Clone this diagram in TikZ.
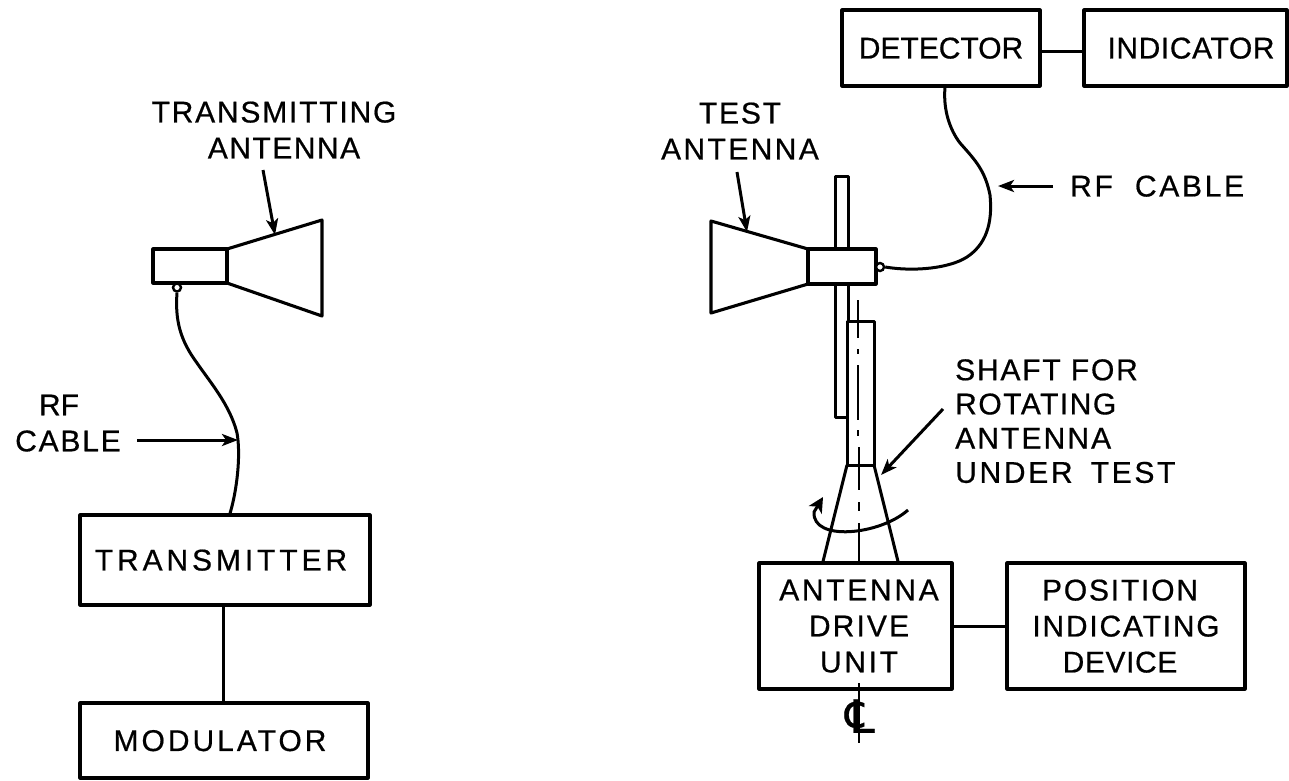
\documentclass[tikz,border=0pt]{standalone}
\usepackage{fontspec}
\setmainfont{Liberation Sans}
\newfontfamily\symfont{DejaVu Sans}
\usetikzlibrary{arrows.meta}
\newcommand{\ls}[2]{{\addfontfeature{LetterSpace=#1,FakeBold=0.6}#2}}
\tikzset{
  x=1pt,y=-1pt,
  lab/.style={inner sep=0pt,align=center,font=\fontsize{30}{36}\selectfont,text depth=0pt},
  labl/.style={lab,align=left,anchor=west},
  boxn/.style={draw,line width=3.1pt,inner sep=0pt,align=center,font=\fontsize{30}{36}\selectfont,text depth=0pt,line join=round},
  wire/.style={line width=3pt},
  part/.style={draw,line width=3.1pt,line join=round,fill=white},
  mast/.style={draw,line width=3pt,line join=round,fill=white},
  ptr/.style={line width=3pt,-{Stealth[length=16pt,width=12pt,inset=4pt]}},
  port/.style={circle,draw,line width=2.4pt,inner sep=0pt,minimum size=8pt,fill=white},
  cline/.style={line width=2.8pt},
}
\begin{document}
\begin{tikzpicture}
\useasboundingbox (0,0) rectangle (1289,780);
% boxes
\node[boxn,minimum width=198pt,minimum height=76pt] (det) at (941,48) {\ls{0}{DETECTOR}};
\node[boxn,minimum width=203pt,minimum height=76pt] (ind) at (1185.5,48) {\kern 11pt\ls{2}{INDICATOR}};
\node[boxn,minimum width=290pt,minimum height=90pt] (tx) at (225,560) {\ls{13}{TRANSMITTER}\kern 8pt};
\node[boxn,minimum width=288pt,minimum height=75pt] (mod) at (224,740.5) {\ls{10}{MODULATOR}\kern 8pt};
\node[boxn,minimum width=193pt,minimum height=126pt] (adu) at (855.5,626) {\hspace*{7pt}\ls{9}{ANTENNA}\\\hspace*{7pt}\ls{7}{DRIVE}\\\hspace*{7pt}\ls{9}{UNIT}};
\node[boxn,minimum width=238pt,minimum height=126pt] (pos) at (1126,626) {\ls{6}{POSITION}\hspace*{12pt}\\\ls{6}{INDICATING}\\\ls{2}{DEVICE}\hspace*{12pt}};
% labels
\node[lab] (tant) at (274,130) {\ls{6}{TRANSMITTING}\\\hspace*{20pt}\ls{5}{ANTENNA}};
\node[lab] (test) at (740,131) {\ls{6}{TEST}\\\ls{8}{ANTENNA}};
\node[lab] (rfl) at (68,423) {\ls{0}{RF}\hspace*{18pt}\\\ls{6}{CABLE}};
\node[labl,anchor=west] (rfr) at (1070,186) {\ls{9}{RF\ \ CABLE}};
\node[labl,anchor=west,font=\fontsize{30}{34.2}\selectfont] (shaft) at (955,421) {\ls{6}{SHAFT FOR}\\\ls{5}{ROTATING}\\\ls{7}{ANTENNA}\\\ls{9}{UNDER\ \kern 7pt TEST}};
% block connectors
\draw[wire] ([yshift=-3pt]det.east) -- ([yshift=-3pt]ind.west);
\draw[wire] ([xshift=-2pt]tx.south) -- ([xshift=-1pt]mod.north);
\draw[wire] (adu.east) -- (pos.west);
% transmitting antenna
\coordinate (lhtl) at (227,249);
\coordinate (lhbl) at (227,283);
\coordinate (lhtr) at (322,220);
\coordinate (lhbr) at (322,316);
\draw[part] (lhtl) -- (lhtr) -- (lhbr) -- (lhbl) -- cycle;
\draw[part] (153,249) rectangle (227,283);
\node[port] (lport) at (177,287.5) {};
\draw[wire] (lport.south) .. controls (175,320) and (180,340) .. (197,363)
  .. controls (210,382) and (230,405) .. (237,433)
  .. controls (241,455) and (237,490) .. ([xshift=5pt]tx.north);
% test antenna, mast
\draw[mast] (835,176) rectangle (848,417);
\draw[mast] (847,321) rectangle (874,465);
\coordinate (rhtl) at (711,221);
\coordinate (rhbl) at (711,313);
\coordinate (rhtr) at (808,249);
\coordinate (rhbr) at (808,284);
\draw[part] (rhtl) -- (rhtr) -- (rhbr) -- (rhbl) -- cycle;
\draw[part] (808,249) rectangle (876,284);
\node[port] (rport) at (880,267) {};
\draw[wire] (rport.east) .. controls (915,272) and (950,268) .. (967,257)
  .. controls (985,245) and (993,225) .. (990,195)
  .. controls (985,170) and (975,160) .. (960,143)
  .. controls (950,130) and (943,110) .. ([xshift=4pt]det.south);
% taper and centre line
\coordinate (tpl) at (847,465);
\coordinate (tpr) at (874,465);
\draw[wire] (tpl) -- ([xshift=-32.5pt]adu.north);
\draw[wire] (tpr) -- ([xshift=42.5pt]adu.north);
\draw[cline] (858,300) -- (858,338);
\draw[cline] (858,349) -- (858,354);
\draw[cline] (858,365) -- (858,420);
\draw[cline] (858,430) -- (858,436);
\draw[cline] (859,447) -- (859,490);
\draw[cline] (859,502) -- (859,511);
\draw[cline] (859,523) -- (859,563);
\node[inner sep=0pt,font=\symfont\fontsize{46}{46}\selectfont] (cl) at (860,716) {\addfontfeature{FakeBold=0.5}℄};
\draw[cline] (859,683) -- (859,743);
% rotation arrow
\draw[line width=3pt,-{Stealth[length=15pt,width=15pt,inset=4pt]}] (908,510) .. controls (880,535) and (812,542) .. (814,512) -- (823,497);
% pointers
\draw[ptr] (263,170) -- (275,235);
\draw[ptr] (737,172) -- (747,232);
\draw[ptr] (137,440) -- (238,440);
\draw[ptr] (1053,186) -- (998,186);
\draw[ptr] (943,409) -- (881,475);
\end{tikzpicture}
\end{document}
